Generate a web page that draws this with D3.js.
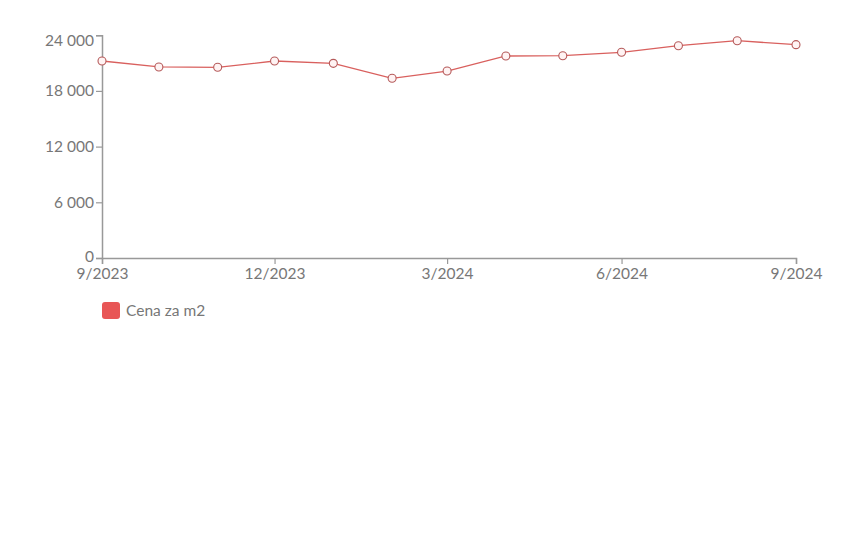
<!DOCTYPE html>
<html><head><meta charset="utf-8">
<script src="https://cdn.jsdelivr.net/npm/d3@7"></script>
<style>body{margin:0;background:#fff;font-family:Lato,"Open Sans",sans-serif;}</style>
</head><body>
<svg id="c" width="856" height="547"></svg>
<script>
const months = ["2023-09","2023-10","2023-11","2023-12","2024-01","2024-02","2024-03","2024-04","2024-05","2024-06","2024-07","2024-08","2024-09"];
const prices = [21220,20580,20540,21220,20970,19360,20140,21760,21790,22160,22870,23410,22980];
const yTicks = [0,6000,12000,18000,24000];
const xTickLabels = ["9/2023","12/2023","3/2024","6/2024","9/2024"];
const seriesName = "Cena za m2";

const svg = d3.select("#c");
const parse = d3.timeParse("%Y-%m");
const dates = months.map(parse);
const x = d3.scaleTime().domain([dates[0], dates[dates.length-1]]).range([102,796]);
const y = d3.scaleLinear().domain([0,24000]).range([258,35.2]);
const axisColor = "#999", textColor = "#777";

const yAxis = svg.append("g").attr("transform","translate(102,0)")
  .call(d3.axisLeft(y).tickValues(yTicks).tickFormat(v => v===0?"0":d3.format(",")(v).replace(/,/g," ")).tickSize(6).tickPadding(2));
const xTickDates = [0,3,6,9,12].map(i=>dates[i]);
const xAxis = svg.append("g").attr("transform","translate(0,258)")
  .call(d3.axisBottom(x).tickValues(xTickDates).tickFormat((d,i)=>xTickLabels[i]).tickSize(6).tickPadding(1));
[yAxis,xAxis].forEach(g=>{
  g.selectAll(".domain").attr("stroke",axisColor).attr("stroke-width",1.5);
  g.selectAll(".tick line").attr("stroke",axisColor).attr("stroke-width",1.2);
  g.selectAll("text").attr("fill",textColor).style("font-family","Lato, sans-serif").style("font-size","15.5px");
});
xAxis.selectAll("text").attr("dy","0.9em");
yAxis.selectAll(".tick").filter(d=>d===0).select("text").attr("dy","0.2em");
yAxis.selectAll(".tick").filter(d=>d===24000).select("text").attr("dy","0.65em");

const line = d3.line().x((d,i)=>x(dates[i])).y(d=>y(d));
svg.append("path").datum(prices).attr("d",line).attr("fill","none").attr("stroke","#d9605e").attr("stroke-width",1.3);
svg.selectAll("circle.pt").data(prices).join("circle").attr("class","pt")
  .attr("cx",(d,i)=>x(dates[i])).attr("cy",d=>y(d)).attr("r",4)
  .attr("fill","#fff3f3").attr("stroke","#b55a5a").attr("stroke-width",1.1);

const lg = svg.append("g");
lg.append("rect").attr("x",102).attr("y",302).attr("width",18).attr("height",17).attr("rx",3).attr("fill","#e85656");
lg.append("text").attr("x",126).attr("y",311).attr("dy","0.35em").attr("fill",textColor)
  .style("font-family","Lato, sans-serif").style("font-size","15.5px").text(seriesName);
</script>
</body></html>
